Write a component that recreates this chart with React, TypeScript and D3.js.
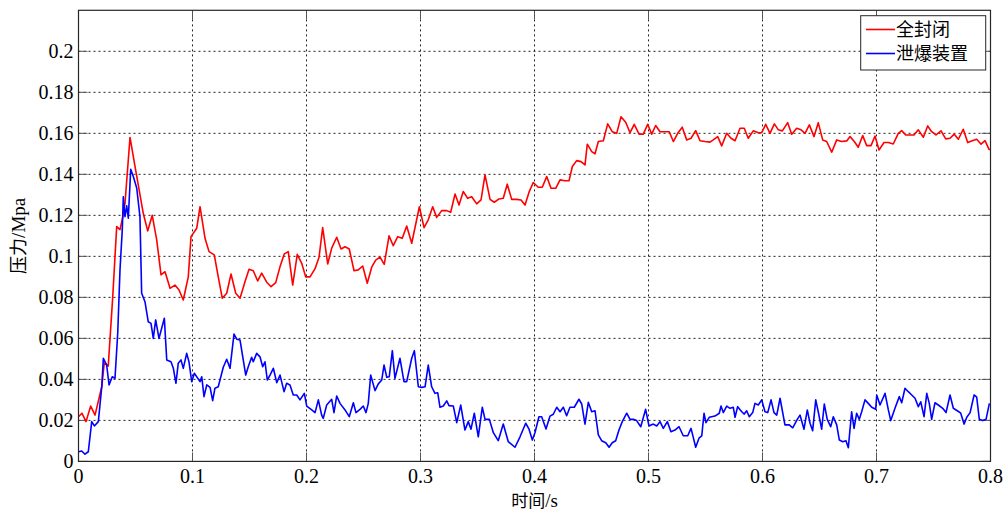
import React from 'react';
import * as d3 from 'd3';

// [time (s), pressure (MPa)]
const sealedData: [number, number][] = [
  [0, 0.0218], [0.003, 0.0235], [0.0066, 0.0194], [0.0107, 0.027], [0.0145, 0.0226], [0.0204, 0.0364],
  [0.0226, 0.048], [0.0261, 0.0465], [0.030, 0.080], [0.0335, 0.1145], [0.0364, 0.113], [0.0388, 0.119],
  [0.0408, 0.126], [0.0452, 0.158], [0.0496, 0.1438], [0.0568, 0.121], [0.0607, 0.1124], [0.0647, 0.120],
  [0.0686, 0.108], [0.0724, 0.091], [0.0759, 0.0925], [0.0803, 0.0844], [0.0846, 0.086], [0.0882, 0.0836],
  [0.0919, 0.0787], [0.0963, 0.090], [0.0987, 0.1096], [0.1037, 0.1137], [0.1066, 0.1242], [0.111, 0.1088],
  [0.1145, 0.1023], [0.1191, 0.1007], [0.1226, 0.090], [0.1261, 0.0796], [0.130, 0.082], [0.1338, 0.0914],
  [0.1379, 0.082], [0.1417, 0.0796], [0.1461, 0.0877], [0.1496, 0.0937], [0.1533, 0.093], [0.1572, 0.088],
  [0.1607, 0.0918], [0.1651, 0.0874], [0.1689, 0.0852], [0.173, 0.0872], [0.1768, 0.095], [0.1805, 0.1012],
  [0.184, 0.1023], [0.1879, 0.086], [0.1919, 0.101], [0.1958, 0.0966], [0.1993, 0.090], [0.2031, 0.090],
  [0.2075, 0.094], [0.211, 0.0996], [0.2142, 0.114], [0.2186, 0.0963], [0.2221, 0.104], [0.2265, 0.1093],
  [0.2303, 0.1036], [0.2338, 0.1047], [0.2375, 0.1036], [0.2417, 0.093], [0.2454, 0.0934], [0.2493, 0.0953],
  [0.2533, 0.0869], [0.2572, 0.0947], [0.2607, 0.0982], [0.2645, 0.0996], [0.2682, 0.0961], [0.2724, 0.110],
  [0.2761, 0.1052], [0.28, 0.1096], [0.284, 0.1088], [0.2879, 0.1148], [0.2923, 0.1064], [0.299, 0.1242],
  [0.3031, 0.114], [0.3068, 0.1178], [0.3107, 0.1242], [0.3142, 0.119], [0.3186, 0.1223], [0.323, 0.1223],
  [0.3265, 0.1215], [0.3303, 0.1304], [0.3338, 0.125], [0.3375, 0.1316], [0.3414, 0.1283], [0.3449, 0.1291],
  [0.3493, 0.1256], [0.3531, 0.1275], [0.3566, 0.1397], [0.361, 0.1278], [0.3647, 0.1264], [0.3689, 0.128],
  [0.3726, 0.1283], [0.3761, 0.1352], [0.38, 0.1278], [0.3844, 0.1278], [0.3882, 0.1275], [0.3917, 0.125],
  [0.3954, 0.1316], [0.3989, 0.136], [0.4033, 0.1337], [0.4068, 0.1337], [0.4107, 0.1389], [0.4145, 0.1332],
  [0.4186, 0.1332], [0.4224, 0.1373], [0.4268, 0.1369], [0.4303, 0.1369], [0.4332, 0.1438], [0.437, 0.1467],
  [0.4408, 0.1462], [0.4443, 0.1446], [0.4463, 0.1547], [0.4502, 0.1511], [0.4531, 0.15], [0.456, 0.156],
  [0.4604, 0.1564], [0.4642, 0.1646], [0.4682, 0.1608], [0.4721, 0.16], [0.4759, 0.1681], [0.48, 0.1654],
  [0.4838, 0.1603], [0.4875, 0.1644], [0.4917, 0.1596], [0.4954, 0.1596], [0.4993, 0.1644], [0.5028, 0.1596],
  [0.5063, 0.1638], [0.5101, 0.1608], [0.5139, 0.1608], [0.5182, 0.1608], [0.5218, 0.156], [0.5256, 0.16],
  [0.5296, 0.163], [0.5335, 0.1568], [0.5373, 0.1576], [0.5414, 0.1613], [0.5452, 0.1564], [0.5496, 0.156],
  [0.5539, 0.1557], [0.5568, 0.1568], [0.5607, 0.1584], [0.5642, 0.1539], [0.5686, 0.16], [0.5724, 0.1576],
  [0.5759, 0.1564], [0.5803, 0.1625], [0.584, 0.1625], [0.5875, 0.1576], [0.5919, 0.1612], [0.5963, 0.1603],
  [0.5993, 0.1603], [0.6028, 0.1644], [0.6066, 0.16], [0.6104, 0.1646], [0.6139, 0.1617], [0.6174, 0.1612],
  [0.6221, 0.1652], [0.6256, 0.1596], [0.63, 0.1625], [0.6338, 0.1617], [0.6373, 0.16], [0.6411, 0.1641],
  [0.6452, 0.1584], [0.6489, 0.1652], [0.6528, 0.1568], [0.6563, 0.156], [0.6607, 0.1508], [0.6651, 0.1568],
  [0.6695, 0.156], [0.6739, 0.1563], [0.6768, 0.1584], [0.6805, 0.156], [0.684, 0.1532], [0.6879, 0.1589],
  [0.6914, 0.154], [0.6952, 0.154], [0.6987, 0.1587], [0.7022, 0.1519], [0.7066, 0.1555], [0.7104, 0.1555],
  [0.7147, 0.1548], [0.7191, 0.16], [0.7221, 0.1613], [0.7256, 0.1592], [0.7294, 0.1592], [0.7329, 0.1592],
  [0.7367, 0.1617], [0.7411, 0.1581], [0.7449, 0.1636], [0.7484, 0.1608], [0.7522, 0.1592], [0.7566, 0.1612],
  [0.7607, 0.1573], [0.7645, 0.1576], [0.7682, 0.1596], [0.7718, 0.1571], [0.7761, 0.162], [0.78, 0.1555],
  [0.784, 0.1564], [0.7879, 0.1571], [0.7917, 0.1547], [0.7952, 0.1564], [0.7987, 0.1522], [0.8, 0.152],
];

const ventedData: [number, number][] = [
  [0, 0.0047], [0.0028, 0.0051], [0.0057, 0.0035], [0.0086, 0.0047], [0.0116, 0.0194], [0.0139, 0.0173],
  [0.0174, 0.0194], [0.0204, 0.0364], [0.0218, 0.0503], [0.0247, 0.047], [0.0268, 0.0373], [0.0296, 0.0413],
  [0.032, 0.0405], [0.0344, 0.0625], [0.0364, 0.0934], [0.0384, 0.1129], [0.0393, 0.1291], [0.0408, 0.1194],
  [0.0423, 0.1246], [0.0437, 0.1186], [0.0458, 0.1425], [0.0481, 0.1389], [0.0511, 0.1332], [0.0539, 0.1194],
  [0.0554, 0.082], [0.0583, 0.0779], [0.0612, 0.0681], [0.0636, 0.0673], [0.0656, 0.060], [0.0677, 0.069],
  [0.0706, 0.060], [0.0753, 0.0698], [0.0774, 0.0495], [0.0811, 0.0486], [0.0832, 0.0454], [0.0855, 0.0381],
  [0.0875, 0.0479], [0.0899, 0.0495], [0.0919, 0.0454], [0.0949, 0.0527], [0.0969, 0.0486], [0.0993, 0.0389],
  [0.1016, 0.043], [0.1066, 0.0389], [0.1081, 0.0413], [0.1101, 0.0316], [0.1125, 0.0373], [0.1154, 0.0361],
  [0.1177, 0.0296], [0.1197, 0.0357], [0.1226, 0.0364], [0.127, 0.0459], [0.13, 0.0498], [0.1329, 0.0454],
  [0.1364, 0.0621], [0.1388, 0.0596], [0.1417, 0.0592], [0.1467, 0.0421], [0.1489, 0.0462], [0.1519, 0.0508],
  [0.1533, 0.0486], [0.1563, 0.0527], [0.1592, 0.051], [0.1616, 0.0462], [0.1636, 0.0486], [0.1656, 0.0397],
  [0.168, 0.0421], [0.1709, 0.0454], [0.1739, 0.0384], [0.1768, 0.0421], [0.1803, 0.034], [0.1826, 0.0381],
  [0.1855, 0.0373], [0.1884, 0.0324], [0.1914, 0.0324], [0.1943, 0.030], [0.1981, 0.0332], [0.2002, 0.027],
  [0.2046, 0.0251], [0.2075, 0.0238], [0.2104, 0.030], [0.2133, 0.0226], [0.2147, 0.021], [0.2177, 0.0275],
  [0.2221, 0.0303], [0.2241, 0.0238], [0.2265, 0.0319], [0.2294, 0.0283], [0.2338, 0.0251], [0.2375, 0.0218],
  [0.2411, 0.0286], [0.2434, 0.0238], [0.2469, 0.0254], [0.2498, 0.027], [0.2522, 0.0238], [0.2542, 0.0283],
  [0.2563, 0.0421], [0.2601, 0.0345], [0.263, 0.0378], [0.266, 0.0397], [0.268, 0.047], [0.2704, 0.041],
  [0.2726, 0.0413], [0.2753, 0.054], [0.2776, 0.0405], [0.282, 0.0503], [0.2855, 0.0389], [0.2879, 0.0389],
  [0.2923, 0.0503], [0.2946, 0.054], [0.2981, 0.0364], [0.3011, 0.0361], [0.304, 0.0364], [0.3068, 0.047],
  [0.3098, 0.0364], [0.3127, 0.0332], [0.3151, 0.0335], [0.3171, 0.0264], [0.32, 0.027], [0.323, 0.0295],
  [0.325, 0.0272], [0.3288, 0.027], [0.3318, 0.0189], [0.3353, 0.0275], [0.339, 0.0153], [0.3419, 0.0194],
  [0.3443, 0.0157], [0.3472, 0.0235], [0.3507, 0.012], [0.3542, 0.0264], [0.3566, 0.0205], [0.3604, 0.0205],
  [0.3639, 0.014], [0.3682, 0.0101], [0.3726, 0.0182], [0.377, 0.0096], [0.3829, 0.0069], [0.3873, 0.012],
  [0.3923, 0.0186], [0.3952, 0.0157], [0.3981, 0.0104], [0.4004, 0.014], [0.4039, 0.0218], [0.4063, 0.0218],
  [0.4101, 0.0158], [0.4136, 0.0221], [0.4165, 0.023], [0.4195, 0.0264], [0.4224, 0.0242], [0.4253, 0.0264],
  [0.4282, 0.0223], [0.4311, 0.0264], [0.4349, 0.0264], [0.439, 0.0303], [0.4414, 0.028], [0.4443, 0.0182],
  [0.4472, 0.0288], [0.4502, 0.0242], [0.4531, 0.0247], [0.456, 0.0129], [0.4589, 0.0101], [0.4625, 0.0091],
  [0.4654, 0.0069], [0.4682, 0.0091], [0.4712, 0.0101], [0.4741, 0.0153], [0.477, 0.0194], [0.4809, 0.0235],
  [0.4838, 0.0205], [0.4867, 0.0205], [0.4896, 0.0199], [0.4932, 0.0169], [0.4975, 0.0254], [0.5004, 0.0173],
  [0.5042, 0.0182], [0.5072, 0.0173], [0.5101, 0.0194], [0.513, 0.0161], [0.5165, 0.0194], [0.5197, 0.0145],
  [0.5232, 0.0153], [0.5268, 0.0169], [0.5305, 0.0125], [0.5344, 0.0125], [0.5373, 0.0161], [0.5414, 0.0069],
  [0.5443, 0.0113], [0.5467, 0.0124], [0.5487, 0.0235], [0.5504, 0.0189], [0.5533, 0.0215], [0.5583, 0.0221],
  [0.5621, 0.0235], [0.5636, 0.027], [0.5656, 0.0238], [0.5686, 0.027], [0.5715, 0.0259], [0.5744, 0.0264],
  [0.5759, 0.0215], [0.5782, 0.0267], [0.5818, 0.0242], [0.584, 0.0231], [0.5861, 0.0247], [0.5884, 0.0218],
  [0.5914, 0.0238], [0.5934, 0.0283], [0.5963, 0.0275], [0.5993, 0.030], [0.6022, 0.0242], [0.6046, 0.0238],
  [0.6075, 0.030], [0.6101, 0.0238], [0.6125, 0.0226], [0.6154, 0.0308], [0.6197, 0.0178], [0.6235, 0.0178],
  [0.6265, 0.0164], [0.6305, 0.0205], [0.6329, 0.0226], [0.6364, 0.0157], [0.6393, 0.0251], [0.6417, 0.0186],
  [0.644, 0.015], [0.6467, 0.030], [0.6489, 0.0242], [0.6519, 0.0157], [0.6542, 0.028], [0.6568, 0.0205],
  [0.6598, 0.0169], [0.6621, 0.0218], [0.6651, 0.0178], [0.6674, 0.0104], [0.6704, 0.0096], [0.6732, 0.0101],
  [0.6753, 0.0067], [0.6782, 0.0242], [0.6803, 0.0161], [0.6826, 0.0235], [0.6849, 0.0205], [0.687, 0.0242],
  [0.6899, 0.030], [0.6928, 0.0283], [0.6958, 0.0264], [0.6993, 0.0254], [0.7002, 0.0324], [0.7031, 0.0275],
  [0.7075, 0.0332], [0.7104, 0.0251], [0.7125, 0.0199], [0.7162, 0.0259], [0.72, 0.0316], [0.7221, 0.0286],
  [0.725, 0.0357], [0.7279, 0.034], [0.7309, 0.0324], [0.7338, 0.0308], [0.7367, 0.0267], [0.7388, 0.0291],
  [0.7417, 0.0218], [0.7441, 0.0332], [0.7463, 0.0283], [0.7484, 0.0205], [0.7513, 0.0286], [0.7542, 0.0275],
  [0.7581, 0.0259], [0.761, 0.0238], [0.7645, 0.0324], [0.7674, 0.0259], [0.7709, 0.0247], [0.7739, 0.0235],
  [0.7768, 0.0182], [0.7792, 0.0215], [0.7821, 0.0238], [0.7856, 0.0324], [0.7879, 0.0313], [0.7902, 0.0205],
  [0.7932, 0.0199], [0.7961, 0.0205], [0.799, 0.0283],
];

const xTicks = [0, 0.1, 0.2, 0.3, 0.4, 0.5, 0.6, 0.7, 0.8];
const yTicks = [0, 0.02, 0.04, 0.06, 0.08, 0.1, 0.12, 0.14, 0.16, 0.18, 0.2];
const seriesNames = ['全封闭', '泄爆装置'];
const seriesColors = ['#ff0000', '#0000ff'];

const width = 1005;
const height = 512;
const margin = { top: 10.3, right: 14.5, bottom: 50.6, left: 78.5 };

const numFont = "'Liberation Serif', 'Times New Roman', 'DejaVu Serif', serif";
const cjkFont = "'Noto Sans CJK SC', sans-serif";

export default function App() {
  const x = d3.scaleLinear().domain([0, 0.8]).range([margin.left, width - margin.right]);
  const y = d3.scaleLinear().domain([0, 0.22]).range([height - margin.bottom, margin.top]);

  const line = d3.line<[number, number]>()
    .x(d => x(d[0]))
    .y(d => y(d[1]));

  const x0 = x(0), x1 = x(0.8), y0 = y(0), y1 = y(0.22);
  const tickLen = 9;
  const fmt = (v: number) => String(+v.toFixed(2));

  return (
    <svg width={width} height={height} style={{ position: 'absolute', left: 0, top: 0, background: '#fff' }}>
      <rect x={0} y={0} width={width} height={height} fill="#fff" />
      {/* grid */}
      <g stroke="#222" strokeWidth={1} strokeDasharray="2,3">
        {xTicks.slice(1, -1).map(t => (
          <line key={'gx' + t} x1={x(t)} x2={x(t)} y1={y0} y2={y1} />
        ))}
        {yTicks.slice(1).map(t => (
          <line key={'gy' + t} x1={x0} x2={x1} y1={y(t)} y2={y(t)} />
        ))}
      </g>
      {/* ticks */}
      <g stroke="#555" strokeWidth={1}>
        {xTicks.map(t => (
          <g key={'tx' + t}>
            <line x1={x(t)} x2={x(t)} y1={y0} y2={y0 - tickLen} />
            <line x1={x(t)} x2={x(t)} y1={y1} y2={y1 + tickLen} />
          </g>
        ))}
        {yTicks.map(t => (
          <g key={'ty' + t}>
            <line x1={x0} x2={x0 + tickLen} y1={y(t)} y2={y(t)} />
            <line x1={x1} x2={x1 - tickLen} y1={y(t)} y2={y(t)} />
          </g>
        ))}
      </g>
      {/* data */}
      <path d={line(sealedData) ?? ''} fill="none" stroke={seriesColors[0]} strokeWidth={1.6} strokeLinejoin="round" />
      <path d={line(ventedData) ?? ''} fill="none" stroke={seriesColors[1]} strokeWidth={1.6} strokeLinejoin="round" />
      {/* box */}
      <rect x={x0} y={y1} width={x1 - x0} height={y0 - y1} fill="none" stroke="#262626" strokeWidth={1.2} />
      {/* tick labels */}
      <g style={{ fontFamily: numFont }} fontSize={20} fill="#000">
        {xTicks.map(t => (
          <text key={'lx' + t} x={x(t)} y={y0 + 22} textAnchor="middle">{fmt(t)}</text>
        ))}
        {yTicks.map(t => (
          <text key={'ly' + t} x={x0 - 5} y={y(t) + 6.5} textAnchor="end">{fmt(t)}</text>
        ))}
      </g>
      {/* axis labels */}
      <text x={(x0 + x1) / 2} y={507} textAnchor="middle" fontSize={17} style={{ fontFamily: cjkFont }}>
        时间<tspan style={{ fontFamily: numFont }} fontSize={19}>/s</tspan>
      </text>
      <text transform={`translate(25, ${(y0 + y1) / 2}) rotate(-90)`} textAnchor="middle" fontSize={18} style={{ fontFamily: cjkFont }}>
        压力<tspan style={{ fontFamily: numFont }} fontSize={19}>/Mpa</tspan>
      </text>
      {/* legend */}
      <g>
        <rect x={860.7} y={15.7} width={125} height={54.3} fill="#fff" stroke="#262626" strokeWidth={1} />
        {seriesNames.map((name, i) => (
          <g key={name} transform={`translate(866, ${29.5 + i * 24})`}>
            <line x1={0} x2={29} y1={0} y2={0} stroke={seriesColors[i]} strokeWidth={1.6} />
            <text x={30} y={6.5} fontSize={18} style={{ fontFamily: cjkFont }}>{name}</text>
          </g>
        ))}
      </g>
    </svg>
  );
}
